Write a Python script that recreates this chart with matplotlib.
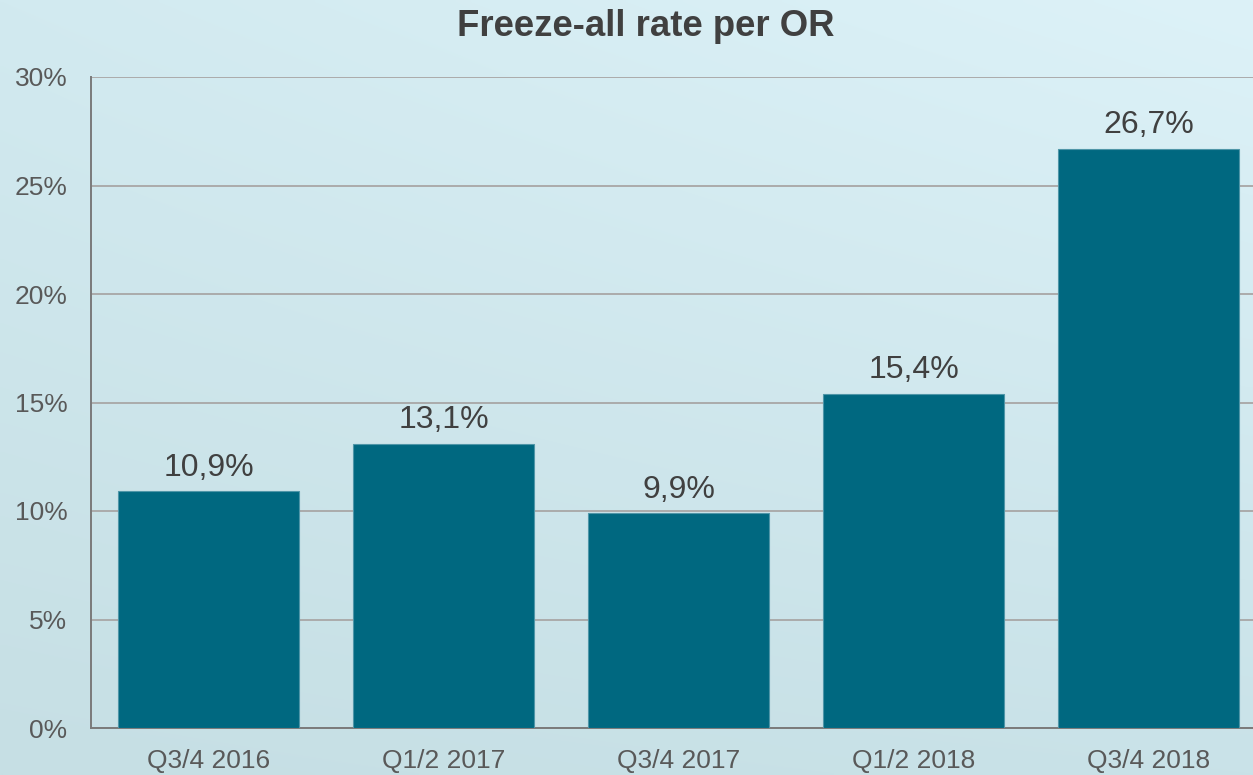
import matplotlib.pyplot as plt
import numpy as np

plt.rcParams["font.family"] = ["Liberation Sans", "DejaVu Sans"]

# data
categories = ["Q3/4 2016", "Q1/2 2017", "Q3/4 2017", "Q1/2 2018", "Q3/4 2018"]
values = [10.9, 13.1, 9.9, 15.4, 26.7]
y_ticks = [0, 5, 10, 15, 20, 25, 30]
y_tick_labels = ["0%", "5%", "10%", "15%", "20%", "25%", "30%"]
title = "Freeze-all rate per OR"

W, H = 1253, 775
fig = plt.figure(figsize=(W / 100, H / 100), dpi=100)

# background gradient (lighter towards the top right)
bg = fig.add_axes([0, 0, 1, 1])
bg.set_axis_off()
tl = np.array([0xD2, 0xEA, 0xF0]) / 255
tr = np.array([0xDD, 0xF2, 0xF8]) / 255
bl = np.array([0xC6, 0xDF, 0xE4]) / 255
br = np.array([0xC9, 0xE2, 0xE8]) / 255
u = np.linspace(0, 1, 200)[None, :, None]
v = np.linspace(0, 1, 200)[:, None, None]
grad = (1 - v) * ((1 - u) * tl + u * tr) + v * ((1 - u) * bl + u * br)
bg.imshow(grad, aspect="auto", extent=[0, 1, 0, 1], interpolation="bilinear")

ax = fig.add_axes([91 / W, 47 / H, 1175 / W, 651 / H])
ax.patch.set_alpha(0)

x = np.arange(len(categories))
bars = ax.bar(x, values, width=0.766, color="#006880", edgecolor="#4f96a8",
              linewidth=0.8, zorder=3)

for b, val in zip(bars, values):
    ax.annotate(f"{val:.1f}".replace(".", ",") + "%",
                (b.get_x() + b.get_width() / 2, b.get_height()),
                xytext=(0, 6), textcoords="offset points",
                ha="center", va="bottom", fontsize=23, color="#404040")

ax.set_xlim(-0.5, len(categories) - 0.5)
ax.set_ylim(0, 30)
ax.set_yticks(y_ticks)
ax.set_yticklabels(y_tick_labels)
ax.set_xticks(x)
ax.set_xticklabels(categories)
ax.tick_params(axis="y", length=0, pad=17, labelsize=19, labelcolor="#595959")
ax.tick_params(axis="x", length=0, pad=15, labelsize=19, labelcolor="#595959")

ax.grid(axis="y", color="#ababab", linewidth=1.4, zorder=0)
ax.set_axisbelow(True)
for s in ["top", "right"]:
    ax.spines[s].set_visible(False)
for s in ["left", "bottom"]:
    ax.spines[s].set_color("#7a7a7a")
    ax.spines[s].set_linewidth(1.4)

fig.text(646 / W, 1 - 26 / H, title, ha="center", va="center",
         fontsize=26.3, fontweight="bold", color="#404040")

fig.savefig("out.png", dpi=100)
